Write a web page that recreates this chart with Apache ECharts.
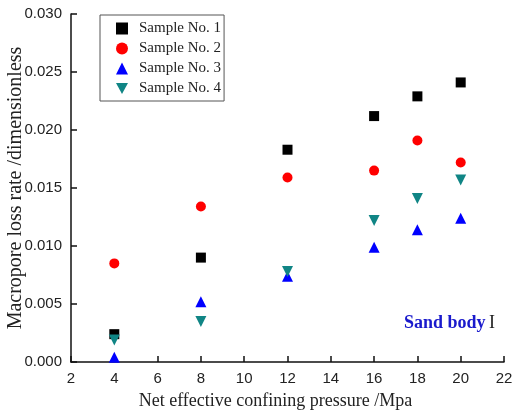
<!DOCTYPE html>
<html><head><meta charset="utf-8">
<script src="https://cdn.jsdelivr.net/npm/echarts@6/dist/echarts.min.js"></script>
<style>html,body{margin:0;padding:0;background:#fff}#c{width:512px;height:412px}</style>
</head><body><div id="c"></div>
<script>
const pressures = [4, 8, 12, 16, 18, 20];
const sample1 = [0.0024, 0.0090, 0.0183, 0.0212, 0.0229, 0.0241];
const sample2 = [0.0085, 0.0134, 0.0159, 0.0165, 0.0191, 0.0172];
const sample3 = [0.0004, 0.0052, 0.0074, 0.0099, 0.0114, 0.0124];
const sample4 = [0.0019, 0.0035, 0.0078, 0.0122, 0.0141, 0.0157];
const seriesNames = ['Sample No. 1', 'Sample No. 2', 'Sample No. 3', 'Sample No. 4'];

const pair = arr => pressures.map((p, i) => [p, arr[i]]);
const chart = echarts.init(document.getElementById('c'), null, {renderer: 'canvas'});
const serif = 'Liberation Serif';
const sans = 'Liberation Sans';
const downTri = 'path://M0,0 L10,0 L5,9 Z';
const mk = (name, data, symbol, color, size) => ({
  name, type: 'scatter', data: pair(data), symbol, symbolSize: size,
  itemStyle: {color, opacity: 1}, animation: false
});
chart.setOption({
  animation: false,
  grid: {left: 71, right: 8, top: 14, bottom: 50, containLabel: false, outerBoundsMode: 'none'},
  xAxis: {
    type: 'value', min: 2, max: 22, interval: 2,
    name: 'Net effective confining pressure /Mpa', nameLocation: 'middle', nameGap: 30,
    nameMoveOverlap: false,
    nameTextStyle: {fontFamily: serif, fontSize: 18, color: '#222', padding: [0, 24, 0, 0]},
    axisLine: {lineStyle: {color: '#111', width: 1.5}},
    axisTick: {inside: true, length: 6, lineStyle: {color: '#111', width: 1.5}},
    axisLabel: {fontFamily: sans, fontSize: 15, color: '#222', margin: 9},
    splitLine: {show: false}
  },
  yAxis: {
    type: 'value', min: 0, max: 0.03, interval: 0.005,
    name: 'Macropore loss rate /dimensionless', nameLocation: 'middle', nameGap: 45,
    nameMoveOverlap: false,
    nameTextStyle: {fontFamily: serif, fontSize: 20, color: '#222'},
    axisLine: {show: true, lineStyle: {color: '#111', width: 1.5}},
    axisTick: {show: true, inside: true, length: 6, lineStyle: {color: '#111', width: 1.5}},
    axisLabel: {fontFamily: sans, fontSize: 15, color: '#222', margin: 9,
      formatter: v => v.toFixed(3)},
    splitLine: {show: false}
  },
  legend: {
    orient: 'vertical', left: 100, top: 15,
    padding: [6, 3, 5, 16], itemGap: 5, itemWidth: 12, itemHeight: 12,
    borderColor: '#555', borderWidth: 1,
    textStyle: {fontFamily: serif, fontSize: 15, color: '#222', padding: [0, 0, 0, 6]},
    data: seriesNames
  },
  series: [
    mk(seriesNames[0], sample1, 'rect', '#000000', 10),
    mk(seriesNames[1], sample2, 'circle', '#ff0000', 10),
    mk(seriesNames[2], sample3, 'triangle', '#0000ff', 11),
    mk(seriesNames[3], sample4, downTri, '#108585', 11)
  ],
  graphic: [{
    type: 'text', left: 404, top: 314,
    style: {
      text: '{a|Sand body} {b|I}',
      rich: {
        a: {fontFamily: serif, fontSize: 18, fontWeight: 'bold', fill: '#1a1acc'},
        b: {fontFamily: serif, fontSize: 18, fill: '#222'}
      }
    }
  }]
});
</script></body></html>
